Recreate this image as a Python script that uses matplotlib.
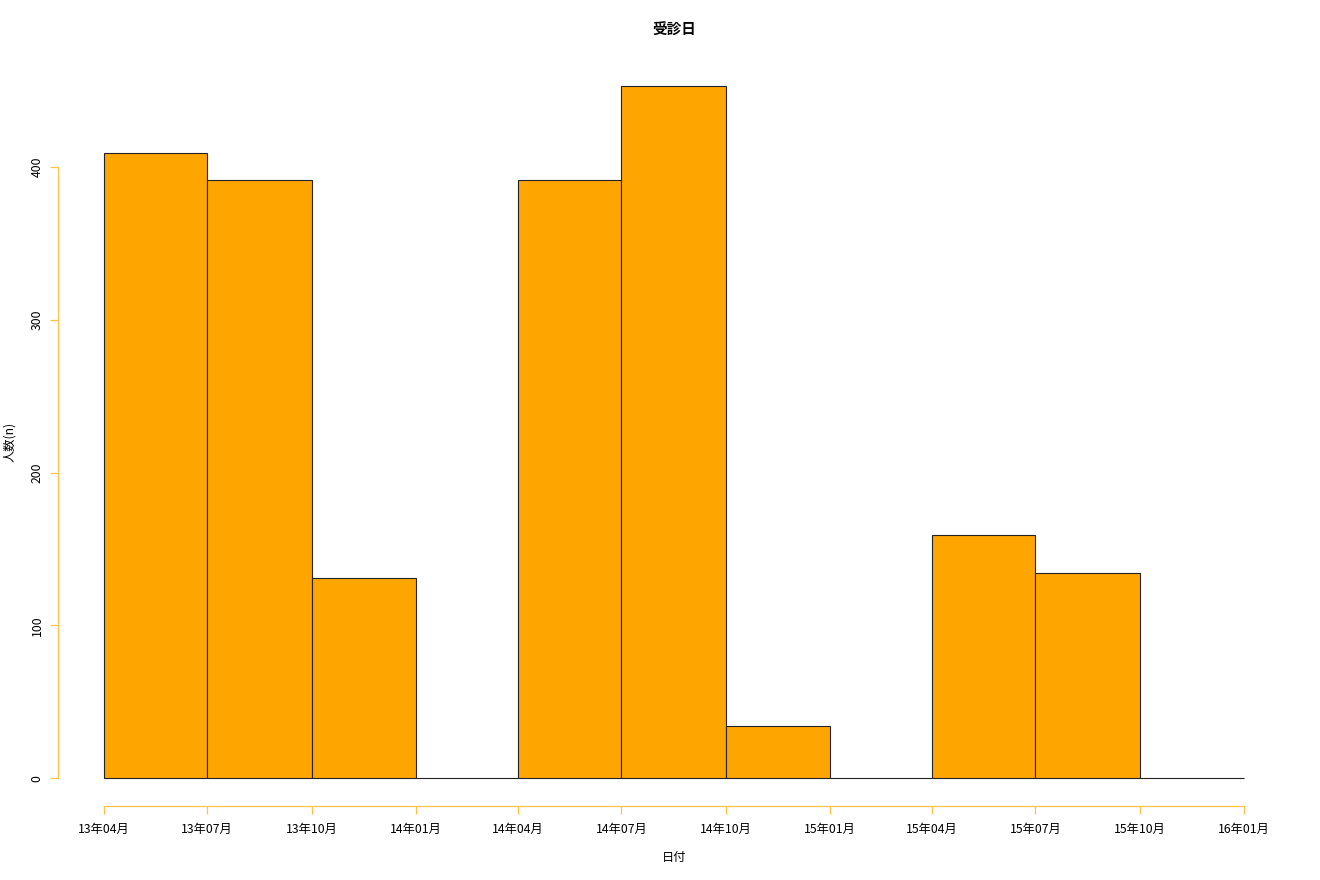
import matplotlib
matplotlib.use("Agg")
import matplotlib.pyplot as plt
import matplotlib.dates as mdates
import numpy as np
import pandas as pd

plt.rcParams['font.family'] = ['Noto Sans CJK JP', 'DejaVu Sans']

# 四半期ごとの受診者数
bin_edges = pd.date_range("2013-04-01", "2016-01-01", freq="QS")
counts = [409, 391, 131, 0, 391, 453, 34, 0, 159, 134, 0]
y_ticks = [0, 100, 200, 300, 400]
title = "受診日"
xlabel = "日付"
ylabel = "人数(n)"

edges = mdates.date2num(bin_edges.to_pydatetime())
widths = np.diff(edges)

fig = plt.figure(figsize=(13.2, 8.8), dpi=100)
ax = fig.add_axes([58.4 / 1320, 1 - 806 / 880, (1289.6 - 58.4) / 1320, (806 - 58) / 880])

ax.bar(edges[:-1], counts, width=widths, align="edge",
       color="#FFA500", edgecolor="#222222", linewidth=0.8)

# R風の軸範囲 (4%拡張)
span = edges[-1] - edges[0]
ax.set_xlim(edges[0] - 0.04 * span, edges[-1] + 0.04 * span)
top = max(counts)
ax.set_ylim(-0.04 * top, top * 1.04)

for s in ["top", "right"]:
    ax.spines[s].set_visible(False)
for s in ["left", "bottom"]:
    ax.spines[s].set_color("#FFC04D")
    ax.spines[s].set_linewidth(0.9)
ax.spines["left"].set_bounds(y_ticks[0], y_ticks[-1])
ax.spines["bottom"].set_bounds(edges[0], edges[-1])

ax.set_xticks(edges)
ax.set_xticklabels([d.strftime("%y年%m月") for d in bin_edges], fontsize=8.8)
ax.set_yticks(y_ticks)
ax.set_yticklabels([str(v) for v in y_ticks], rotation=90, va="center", fontsize=8.8)
ax.tick_params(axis="both", color="#FFC04D", length=5.5, width=0.9)
ax.tick_params(axis="x", pad=7)
ax.tick_params(axis="y", pad=5)

fig.text(674 / 1320, 1 - 30 / 880, title, ha="center", va="center",
         fontsize=10.5, fontweight="bold")
fig.text(674 / 1320, 1 - 857 / 880, xlabel, ha="center", va="center", fontsize=8.8)
fig.text(10 / 1320, 1 - 442 / 880, ylabel, ha="center", va="center",
         rotation=90, fontsize=8.8)

fig.savefig("out.png", dpi=100)
